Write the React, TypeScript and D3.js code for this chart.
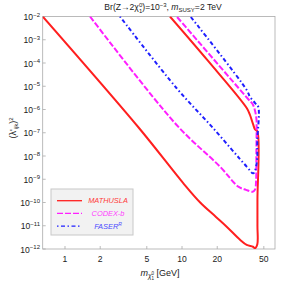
import * as d3 from 'd3';
import React from 'react';

// axis domains and ticks
const massDomain: [number, number] = [0.645, 62.3];
const couplingDomain: [number, number] = [1e-12, 1e-2];
const massTicks = [1, 2, 5, 10, 20, 50];
const couplingExponents = [-2, -3, -4, -5, -6, -7, -8, -9, -10, -11, -12];

// sensitivity curves: [m_chi (GeV), (lambda')^2]
const mathusla: [number, number][] = [
  [0.645, 1.0e-2],
  [4.29, 1.6e-7],
  [10.2, 7.0e-10],
  [14.3, 1.0e-10],
  [19.5, 2.4e-11],
  [24.2, 8.9e-12],
  [31.3, 2.5e-12],
  [35.7, 1.5e-12],
  [40.4, 1.25e-12],
  [42.1, 1.07e-12],
  [44.0, 1.6e-12],
  [44.1, 1.0e-11],
  [44.1, 1.3e-10],
  [44.1, 1.13e-7],
  [42.1, 1.38e-7],
  [40.4, 2.4e-7],
  [38.1, 5.8e-7],
  [35.7, 1.16e-6],
  [16.7, 1.23e-4],
  [7.89, 1.0e-2],
];

const codexb: [number, number][] = [
  [1.636, 1.0e-2],
  [9.0, 2.15e-7],
  [21.1, 3.5e-9],
  [30.3, 4.8e-10],
  [35.2, 3.5e-10],
  [40.2, 2.9e-10],
  [42.1, 3.6e-10],
  [42.9, 7.6e-10],
  [43.2, 1.8e-8],
  [43.4, 1.8e-7],
  [43.3, 3.5e-7],
  [42.1, 8.6e-7],
  [40.1, 1.73e-6],
  [36.7, 2.83e-6],
  [9.0, 1.0e-2],
];

const faser: [number, number][] = [
  [2.95, 1.0e-2],
  [9.0, 8.2e-6],
  [18.4, 1.6e-7],
  [35.7, 3.5e-9],
  [40.7, 1.8e-9],
  [43.5, 5.0e-9],
  [44.0, 4.9e-8],
  [44.8, 1.3e-6],
  [42.1, 1.9e-6],
  [38.1, 3.45e-6],
  [35.7, 6.9e-6],
  [11.8, 1.0e-2],
];

const series = [
  { name: 'MATHUSLA', data: mathusla, color: '#ff1f1f', text: '#ff3b3b', dash: 'none' },
  { name: 'CODEX-b', data: codexb, color: '#ff1fff', text: '#ff3bff', dash: '6,2' },
  { name: 'FASER', data: faser, color: '#1f1fff', text: '#4a4aff', dash: '1.5,2.5,4,2.5' },
];

const font = 'Liberation Sans, Arial, Helvetica, sans-serif';

export default function App() {
  const width = 292;
  const height = 284;
  const x = d3.scaleLog().domain(massDomain).range([42.7, 275]);
  const y = d3.scaleLog().domain(couplingDomain).range([249, 16.5]);
  const [x0, x1] = x.range();
  const [y0, y1] = y.range();

  const line = d3
    .line<[number, number]>()
    .x((d) => x(d[0]))
    .y((d) => y(d[1]))
    .curve(d3.curveCatmullRom.alpha(0.5));

  return (
    <svg
      width={width}
      height={height}
      style={{ position: 'absolute', left: 0, top: 0, background: '#fff' }}
      fontFamily={font}
    >
      <defs>
        <clipPath id="plot">
          <rect x={x0} y={y1} width={x1 - x0} height={y0 - y1} />
        </clipPath>
      </defs>

      {/* title */}
      <text x={163} y={10} textAnchor="middle" fontSize={8.6} fill="#222">
        Br(Z→2χ
        <tspan fontSize={6} dy={-3.5}>0</tspan>
        <tspan fontSize={6} dx={-3.3} dy={6}>1</tspan>
        <tspan dy={-2.5}>)=10</tspan>
        <tspan fontSize={6} dy={-3.5}>−3</tspan>
        <tspan dy={3.5}>, </tspan>
        <tspan fontStyle="italic">m</tspan>
        <tspan fontSize={6} dy={2}>SUSY</tspan>
        <tspan dy={-2}>=2 TeV</tspan>
      </text>

      {/* frame */}
      <rect x={x0} y={y1} width={x1 - x0} height={y0 - y1} fill="none" stroke="#aaa" strokeWidth={0.8} />

      {/* y ticks */}
      {couplingExponents.map((e) => {
        const yy = y(Math.pow(10, e));
        return (
          <g key={e}>
            <line x1={x0} x2={x0 + 3} y1={yy} y2={yy} stroke="#aaa" strokeWidth={0.8} />
            <text x={40} y={yy + 3.6} textAnchor="end" fontSize={8.6} fill="#222">
              10
              <tspan fontSize={6} dy={-3.6}>{`−${-e}`}</tspan>
            </text>
          </g>
        );
      })}

      {/* x ticks */}
      {massTicks.map((m) => {
        const xx = x(m);
        return (
          <g key={m}>
            <line x1={xx} x2={xx} y1={y0} y2={y0 - 3} stroke="#aaa" strokeWidth={0.8} />
            <text x={xx} y={262.3} textAnchor="middle" fontSize={8.6} fill="#222">
              {m}
            </text>
          </g>
        );
      })}

      {/* axis labels */}
      <text x={160} y={275.5} textAnchor="middle" fontSize={9} fill="#222">
        <tspan fontStyle="italic">m</tspan>
        <tspan fontSize={6.5} fontStyle="italic" dy={2.5}>χ</tspan>
        <tspan fontSize={4.5} dy={-3.5}>0</tspan>
        <tspan fontSize={4.5} dx={-2.5} dy={5}>1</tspan>
        <tspan dy={-4}> [GeV]</tspan>
      </text>
      <text transform="translate(16,128) rotate(-90)" textAnchor="middle" fontSize={9} fill="#222">
        (λ'
        <tspan fontSize={6} dy={2}>ijk</tspan>
        <tspan dy={-2}>)</tspan>
        <tspan fontSize={6} dy={-3.5}>2</tspan>
      </text>

      {/* curves */}
      <g clipPath="url(#plot)">
        {series.map((s) => (
          <path
            key={s.name}
            d={line(s.data) ?? ''}
            fill="none"
            stroke={s.color}
            strokeWidth={2}
            strokeDasharray={s.dash}
            strokeLinejoin="round"
          />
        ))}
      </g>

      {/* legend */}
      <g>
        <rect x={51} y={189} width={82} height={46} fill="#f2f2f2" stroke="#c8c8c8" strokeWidth={1} />
        {series.map((s, i) => {
          const ly = 200.7 + i * 12.7;
          return (
            <g key={s.name}>
              <line x1={57} x2={82} y1={ly} y2={ly} stroke={s.color} strokeWidth={1.3} strokeDasharray={s.dash} />
              <text x={108} y={ly + 2.7} textAnchor="middle" fontSize={7.4} fontStyle="italic" fill={s.text}>
                {s.name}
                {s.name === 'FASER' ? (
                  <tspan fontSize={5} dy={-3}>R</tspan>
                ) : null}
              </text>
            </g>
          );
        })}
      </g>
    </svg>
  );
}
